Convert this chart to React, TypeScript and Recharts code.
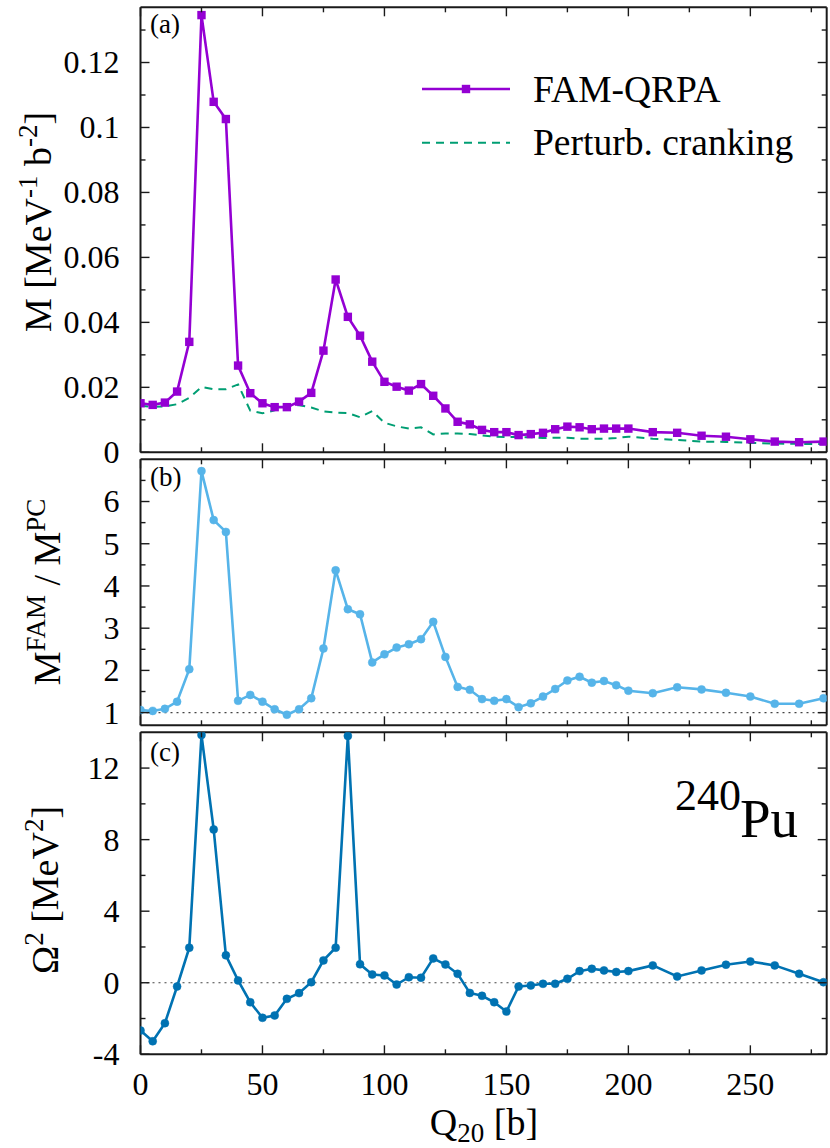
import React from 'react';
import { LineChart, Line, XAxis, YAxis, ReferenceLine } from 'recharts';

// ---------------- data ----------------
const q20 = [
  0, 5, 10, 15, 20, 25, 30, 35, 40, 45, 50, 55, 60, 65, 70, 75, 80, 85, 90, 95,
  100, 105, 110, 115, 120, 125, 130, 135, 140, 145, 150, 155, 160, 165, 170, 175,
  180, 185, 190, 195, 200, 210, 220, 230, 240, 250, 260, 270, 280,
];

const famQrpa = [
  0.0151, 0.0146, 0.0153, 0.0187, 0.034, 0.1346, 0.1079, 0.1026, 0.0267, 0.0182,
  0.0151, 0.0139, 0.0139, 0.0156, 0.0183, 0.0313, 0.0532, 0.0417, 0.0359, 0.0279,
  0.0217, 0.0202, 0.019, 0.021, 0.0174, 0.0135, 0.0094, 0.0086, 0.0069, 0.0062,
  0.0062, 0.0053, 0.0056, 0.006, 0.0071, 0.0079, 0.0077, 0.0071, 0.0073, 0.0073,
  0.0073, 0.0062, 0.006, 0.0051, 0.0048, 0.004, 0.0033, 0.0031, 0.0033,
];

const perturbCranking = [
  0.0143, 0.014, 0.0141, 0.0148, 0.0168, 0.0201, 0.0194, 0.0194, 0.0209, 0.0128,
  0.012, 0.0129, 0.0142, 0.0145, 0.0138, 0.0126, 0.0122, 0.0121, 0.0108, 0.0127,
  0.0091, 0.008, 0.0073, 0.0077, 0.0055, 0.0058, 0.0058, 0.0056, 0.0052, 0.0048,
  0.0047, 0.0047, 0.0046, 0.0044, 0.0045, 0.0045, 0.0042, 0.0042, 0.0042, 0.0044,
  0.0048, 0.0042, 0.0038, 0.0033, 0.0032, 0.0029, 0.0027, 0.0026, 0.0025,
];

const ratioFamPc = [
  1.06, 1.04, 1.09, 1.26, 2.03, 6.72, 5.56, 5.28, 1.28, 1.42,
  1.26, 1.08, 0.95, 1.08, 1.34, 2.52, 4.37, 3.45, 3.33, 2.19,
  2.38, 2.54, 2.62, 2.74, 3.15, 2.32, 1.61, 1.54, 1.32, 1.28,
  1.32, 1.13, 1.22, 1.38, 1.56, 1.76, 1.85, 1.71, 1.75, 1.65,
  1.52, 1.46, 1.6, 1.55, 1.47, 1.38, 1.21, 1.21, 1.34,
];

const omega2 = [
  -2.67, -3.27, -2.26, -0.21, 1.96, 13.85, 8.57, 1.53, 0.13, -1.09,
  -1.96, -1.83, -0.9, -0.58, 0.03, 1.25, 1.96, 13.8, 1.03, 0.46,
  0.41, -0.1, 0.31, 0.28, 1.36, 1.02, 0.5, -0.57, -0.73, -1.09,
  -1.61, -0.21, -0.15, -0.06, -0.06, 0.22, 0.65, 0.78, 0.69, 0.6,
  0.65, 0.97, 0.35, 0.69, 1.01, 1.19, 0.97, 0.5, 0.03,
];

const xTicks = [0, 25, 50, 75, 100, 125, 150, 175, 200, 225, 250, 275];
const xMajor = [0, 50, 100, 150, 200, 250];
const aTicks = [0, 0.01, 0.02, 0.03, 0.04, 0.05, 0.06, 0.07, 0.08, 0.09, 0.1, 0.11, 0.12, 0.13];
const aMajor = [0, 0.02, 0.04, 0.06, 0.08, 0.1, 0.12];
const bTicks = [1, 1.5, 2, 2.5, 3, 3.5, 4, 4.5, 5, 5.5, 6, 6.5];
const bMajor = [1, 2, 3, 4, 5, 6];
const cTicks = [-4, -2, 0, 2, 4, 6, 8, 10, 12];
const cMajor = [-4, 0, 4, 8, 12];

const rows = q20.map((q, i) => ({
  q,
  fam: famQrpa[i],
  pc: perturbCranking[i],
  ratio: ratioFamPc[i],
  om: omega2[i],
}));

// ---------------- styles ----------------
const SERIF = "'Liberation Serif', 'Times New Roman', Times, 'DejaVu Serif', serif";
const FONT = { fontFamily: SERIF };
const FRAME = '#1a1a1a';
const PURPLE = '#9400d3';
const GREEN = '#009e73';
const LIGHTBLUE = '#56b4e9';
const BLUE = '#0072b2';
const TICK_FS = 32;
const TITLE_FS = 38;
const MAJ = 9;
const MIN = 5;

const X_DOMAIN: [number, number] = [0, 281.3];

const isMajor = (v: number, majors: number[]) => majors.some((m) => Math.abs(m - v) < 1e-9);

const leftTick = (majors: number[]) => (props: any) => {
  const { x, y, payload, index } = props;
  const major = isMajor(payload.value, majors);
  return (
    <g key={`lt-${index}`}>
      <line x1={x} x2={x + (major ? MAJ : MIN)} y1={y} y2={y} stroke={FRAME} strokeWidth={1.4} />
      {major && (
        <text x={x - 21} y={y} dy="0.34em" textAnchor="end" fontSize={TICK_FS} style={FONT} fill="#000">
          {String(payload.value)}
        </text>
      )}
    </g>
  );
};

const rightTick = (majors: number[]) => (props: any) => {
  const { x, y, payload, index } = props;
  const major = isMajor(payload.value, majors);
  return (
    <g key={`rt-${index}`}>
      <line x1={x} x2={x - (major ? MAJ : MIN)} y1={y} y2={y} stroke={FRAME} strokeWidth={1.4} />
    </g>
  );
};

const topTick = (props: any) => {
  const { x, y, payload, index } = props;
  const major = isMajor(payload.value, xMajor);
  return (
    <g key={`tt-${index}`}>
      <line x1={x} x2={x} y1={y} y2={y + (major ? MAJ : MIN)} stroke={FRAME} strokeWidth={1.4} />
    </g>
  );
};

const bottomTick = (labels: boolean) => (props: any) => {
  const { x, y, payload, index } = props;
  const major = isMajor(payload.value, xMajor);
  return (
    <g key={`bt-${index}`}>
      <line x1={x} x2={x} y1={y} y2={y - (major ? MAJ : MIN)} stroke={FRAME} strokeWidth={1.4} />
      {labels && major && (
        <text x={x} y={y + 41} textAnchor="middle" fontSize={TICK_FS} style={FONT} fill="#000">
          {String(payload.value)}
        </text>
      )}
    </g>
  );
};

const squareDot = (props: any) => {
  const { cx, cy, index } = props;
  if (cx == null || cy == null) return <g key={`sq-${index}`} />;
  return <rect key={`sq-${index}`} x={cx - 4.2} y={cy - 4.2} width={8.4} height={8.4} fill={PURPLE} />;
};

const axisLine = { stroke: FRAME, strokeWidth: 2 };

function Frame(props: { yDomain: [number, number]; yTicks: number[]; yMajor: number[]; xLabels: boolean }) {
  const { yDomain, yTicks, yMajor, xLabels } = props;
  return [
    <XAxis
      key="xb"
      dataKey="q"
      type="number"
      domain={X_DOMAIN}
      allowDataOverflow
      ticks={xTicks}
      interval={0}
      height={1}
      tickSize={0}
      tickMargin={0}
      axisLine={axisLine}
      tickLine={false}
      tick={bottomTick(xLabels)}
    />,
    <XAxis
      key="xt"
      xAxisId="t"
      orientation="top"
      dataKey="q"
      type="number"
      domain={X_DOMAIN}
      allowDataOverflow
      ticks={xTicks}
      interval={0}
      height={1}
      tickSize={0}
      tickMargin={0}
      axisLine={axisLine}
      tickLine={false}
      tick={topTick}
    />,
    <YAxis
      key="yl"
      type="number"
      domain={yDomain}
      allowDataOverflow
      ticks={yTicks}
      interval={0}
      width={140.5}
      tickSize={0}
      tickMargin={0}
      axisLine={axisLine}
      tickLine={false}
      tick={leftTick(yMajor)}
    />,
    <YAxis
      key="yr"
      yAxisId="r"
      orientation="right"
      type="number"
      domain={yDomain}
      allowDataOverflow
      ticks={yTicks}
      interval={0}
      width={1}
      tickSize={0}
      tickMargin={0}
      axisLine={axisLine}
      tickLine={false}
      tick={rightTick(yMajor)}
    />,
  ];
}

export default function App() {
  return (
    <div
      style={{
        position: 'absolute',
        left: 0,
        top: 0,
        width: 830,
        height: 1148,
        background: '#fff',
        overflow: 'hidden',
        fontFamily: SERIF,
      }}
    >
      {/* Panel (a) */}
      <div style={{ position: 'absolute', left: 0, top: 0 }}>
        <LineChart width={830} height={475} data={rows} margin={{ top: 6.3, right: 2.3, bottom: 21.7, left: 0 }}>
          {Frame({ yDomain: [0, 0.137], yTicks: aTicks, yMajor: aMajor, xLabels: false })}
          <Line
            dataKey="pc"
            type="linear"
            stroke={GREEN}
            strokeWidth={2}
            strokeDasharray="8 6"
            dot={false}
            isAnimationActive={false}
          />
          <Line
            dataKey="fam"
            type="linear"
            stroke={PURPLE}
            strokeWidth={2.6}
            dot={squareDot}
            activeDot={false}
            isAnimationActive={false}
          />
        </LineChart>
      </div>

      {/* Panel (b) */}
      <div style={{ position: 'absolute', left: 0, top: 455 }}>
        <LineChart width={830} height={275} data={rows} margin={{ top: 3.3, right: 2.3, bottom: 3.7, left: 0 }}>
          {Frame({ yDomain: [0.7, 7.0], yTicks: bTicks, yMajor: bMajor, xLabels: false })}
          <ReferenceLine y={1} stroke="#444" strokeWidth={1.2} strokeDasharray="2 4" />
          <Line
            dataKey="ratio"
            type="linear"
            stroke={LIGHTBLUE}
            strokeWidth={2.6}
            dot={{ r: 4, fill: LIGHTBLUE, stroke: LIGHTBLUE, strokeWidth: 0.5 }}
            activeDot={false}
            isAnimationActive={false}
          />
        </LineChart>
      </div>

      {/* Panel (c) */}
      <div style={{ position: 'absolute', left: 0, top: 728 }}>
        <LineChart width={830} height={420} data={rows} margin={{ top: 3.3, right: 2.3, bottom: 92.7, left: 0 }}>
          {Frame({ yDomain: [-4, 14], yTicks: cTicks, yMajor: cMajor, xLabels: true })}
          <ReferenceLine y={0} stroke="#444" strokeWidth={1.2} strokeDasharray="2 4" />
          <Line
            dataKey="om"
            type="linear"
            stroke={BLUE}
            strokeWidth={2.6}
            dot={{ r: 4, fill: BLUE, stroke: BLUE, strokeWidth: 0.5 }}
            activeDot={false}
            isAnimationActive={false}
          />
        </LineChart>
      </div>

      {/* Annotations: titles, legend, panel labels */}
      <svg
        width={830}
        height={1148}
        style={{ position: 'absolute', left: 0, top: 0, pointerEvents: 'none', fontFamily: SERIF }}
      >
        {/* legend */}
        <line x1={422} x2={510} y1={89} y2={89} stroke={PURPLE} strokeWidth={2.6} />
        <rect x={461.8} y={84.8} width={8.4} height={8.4} fill={PURPLE} />
        <text x={533} y={102} fontSize={37.5} fill="#000" style={FONT}>FAM-QRPA</text>
        <line x1={422} x2={510} y1={142.7} y2={142.7} stroke={GREEN} strokeWidth={2} strokeDasharray="8 6" />
        <text x={533} y={154.5} fontSize={37.5} fill="#000" style={FONT}>Perturb. cranking</text>

        {/* panel labels */}
        <text x={150} y={33} fontSize={27} fill="#000" style={FONT}>(a)</text>
        <text x={150} y={486} fontSize={27} fill="#000" style={FONT}>(b)</text>
        <text x={150} y={761} fontSize={27} fill="#000" style={FONT}>(c)</text>

        {/* nucleus label */}
        <text x={675} y={810} fontSize={44} fill="#000" style={FONT}>240</text>
        <text x={740} y={837} fontSize={55} fill="#000" style={FONT}>Pu</text>

        {/* y-axis titles */}
        <text transform="translate(51,222) rotate(-90)" textAnchor="middle" fontSize={TITLE_FS} fill="#000" style={FONT}>
          M [MeV
          <tspan dy={-14} fontSize={27}>-1</tspan>
          <tspan dy={14}> b</tspan>
          <tspan dy={-14} fontSize={27}>-2</tspan>
          <tspan dy={14}>]</tspan>
        </text>
        <text transform="translate(60,592) rotate(-90)" textAnchor="middle" fontSize={TITLE_FS} fill="#000" style={FONT}>
          M
          <tspan dy={-15} fontSize={27}>FAM</tspan>
          <tspan dy={15}> / M</tspan>
          <tspan dy={-15} fontSize={27}>PC</tspan>
        </text>
        <text transform="translate(58,890) rotate(-90)" textAnchor="middle" fontSize={TITLE_FS} fill="#000" style={FONT}>
          Ω
          <tspan dy={-15} fontSize={27}>2</tspan>
          <tspan dy={15}> [MeV</tspan>
          <tspan dy={-15} fontSize={27}>2</tspan>
          <tspan dy={15}>]</tspan>
        </text>

        {/* x-axis title */}
        <text x={484} y={1135} textAnchor="middle" fontSize={TITLE_FS} fill="#000" style={FONT}>
          Q
          <tspan dy={7} fontSize={27}>20</tspan>
          <tspan dy={-7}> [b]</tspan>
        </text>
      </svg>
    </div>
  );
}
